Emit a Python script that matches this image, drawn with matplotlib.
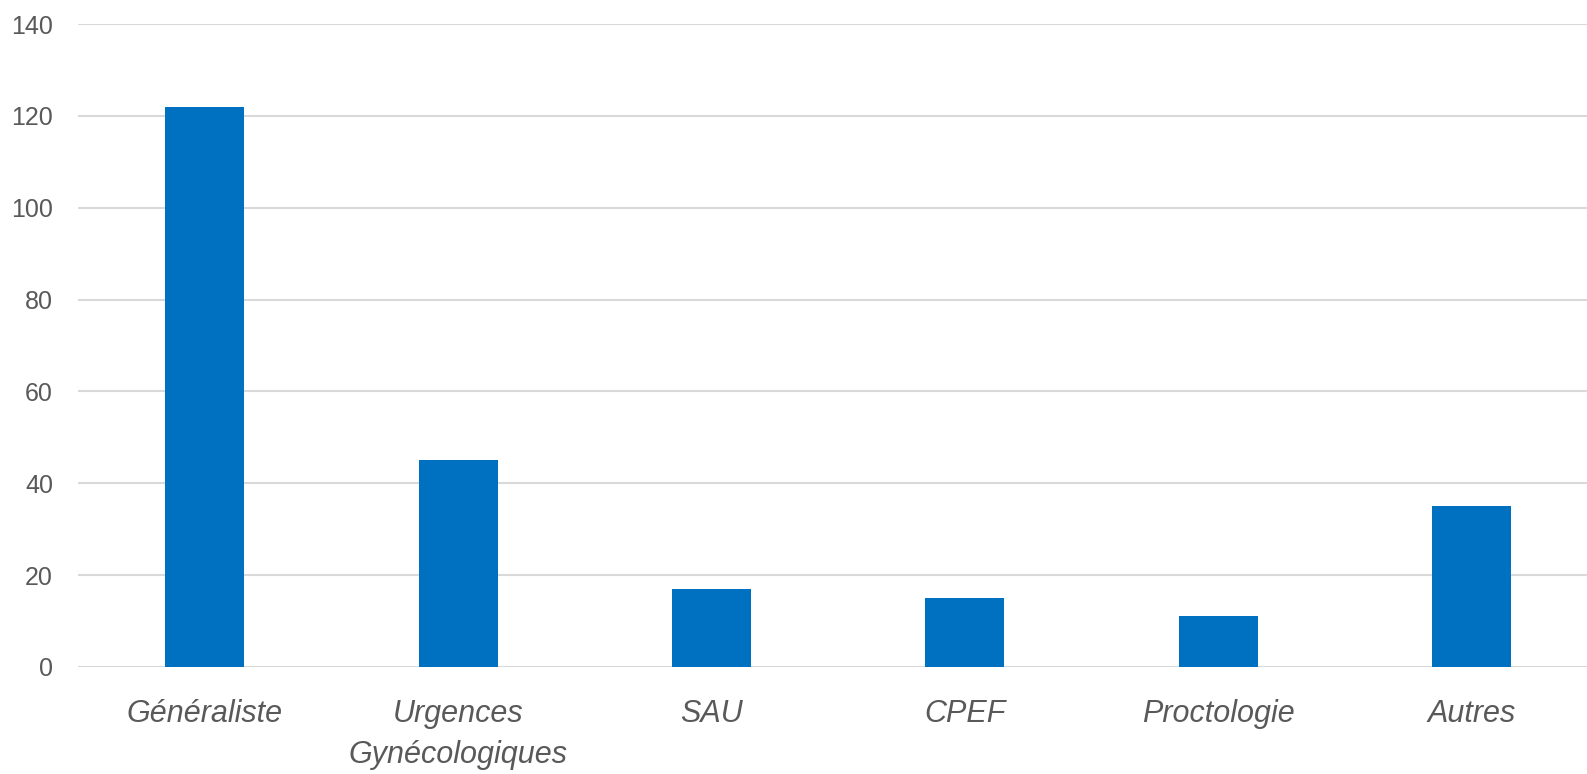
import matplotlib.pyplot as plt

# Consultations par structure d'orientation
categories = ['Généraliste', 'Urgences\nGynécologiques', 'SAU', 'CPEF', 'Proctologie', 'Autres']
values = [122, 45, 17, 15, 11, 35]
yticks = [0, 20, 40, 60, 80, 100, 120, 140]

plt.rcParams['font.family'] = ['Liberation Sans Narrow', 'Liberation Sans', 'DejaVu Sans']

fig = plt.figure(figsize=(15.87, 7.74), dpi=100)
ax = fig.add_axes([78 / 1587, 1 - 667 / 774, 1 - 78 / 1587, (667 - 24) / 774])

x = range(len(categories))
ax.bar(x, values, width=0.312, color='#0070C0', zorder=3)

ax.set_xlim(-0.5, 5.455)
ax.set_ylim(0, 140)
ax.set_yticks(yticks)
ax.set_xticks(list(x))
ax.set_xticklabels(categories, fontsize=22, style='italic', color='#595959', linespacing=1.5)
ax.tick_params(axis='y', labelsize=18, labelcolor='#595959', length=0, pad=18)
ax.tick_params(axis='x', length=0, pad=23)

ax.yaxis.grid(True, color='#D9D9D9', linewidth=1.5, zorder=0)
for s in ax.spines.values():
    s.set_visible(False)

fig.savefig('out.png', dpi=100)
